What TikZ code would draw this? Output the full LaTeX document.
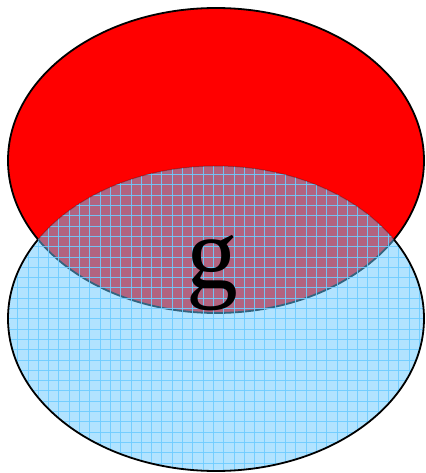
\documentclass[tikz,border=0pt]{standalone}
\usepackage{fontspec}
\setmainfont{Liberation Serif}
\definecolor{redfill}{RGB}{255,0,0}
\definecolor{bluefill}{RGB}{100,200,255}
\definecolor{gridblue}{RGB}{110,205,255}
\tikzset{
  setA/.style={fill=redfill, draw=black, line width=1.8bp},
  setBfill/.style={fill=bluefill, fill opacity=0.5},
  setBline/.style={draw=black, line width=1.8bp},
  setBfaint/.style={draw=black, line width=1bp, draw opacity=0.25},
  gridlines/.style={draw=gridblue, line width=0.8bp, draw opacity=0.9},
  biglabel/.style={font=\fontsize{104}{104}\selectfont, inner sep=0pt, anchor=base}
}
\begin{document}
\begin{tikzpicture}[x=1bp,y=-1bp]
\useasboundingbox (0,0) rectangle (425,473);
% red ellipse A
\coordinate (cA) at (216,160.5);
\draw[setA] (cA) ellipse [x radius=208, y radius=152.5];
% blue ellipse B with grid
\coordinate (cB) at (216,318.5);
\fill[setBfill] (cB) ellipse [x radius=208, y radius=152.5];
\begin{scope}
  \clip (cB) ellipse [x radius=208, y radius=152.5];
  \foreach \xx in {7.3,17.6,...,425} {
    \draw[gridlines] (\xx,160) -- (\xx,473);
  }
  \foreach \yy in {164.2,174.5,...,473} {
    \draw[gridlines] (0,\yy) -- (425,\yy);
  }
\end{scope}
% outline of B: black outside A, faint inside A
\begin{scope}
  \clip (cA) ellipse [x radius=208, y radius=152.5];
  \draw[setBfaint] (cB) ellipse [x radius=208, y radius=152.5];
\end{scope}
\begin{scope}[even odd rule]
  \clip (-10,-10) rectangle (435,483) (cA) ellipse [x radius=208, y radius=152.5];
  \draw[setBline] (cB) ellipse [x radius=208, y radius=152.5];
\end{scope}
\node[biglabel] (g) at (212,288) {g};
\end{tikzpicture}
\end{document}
